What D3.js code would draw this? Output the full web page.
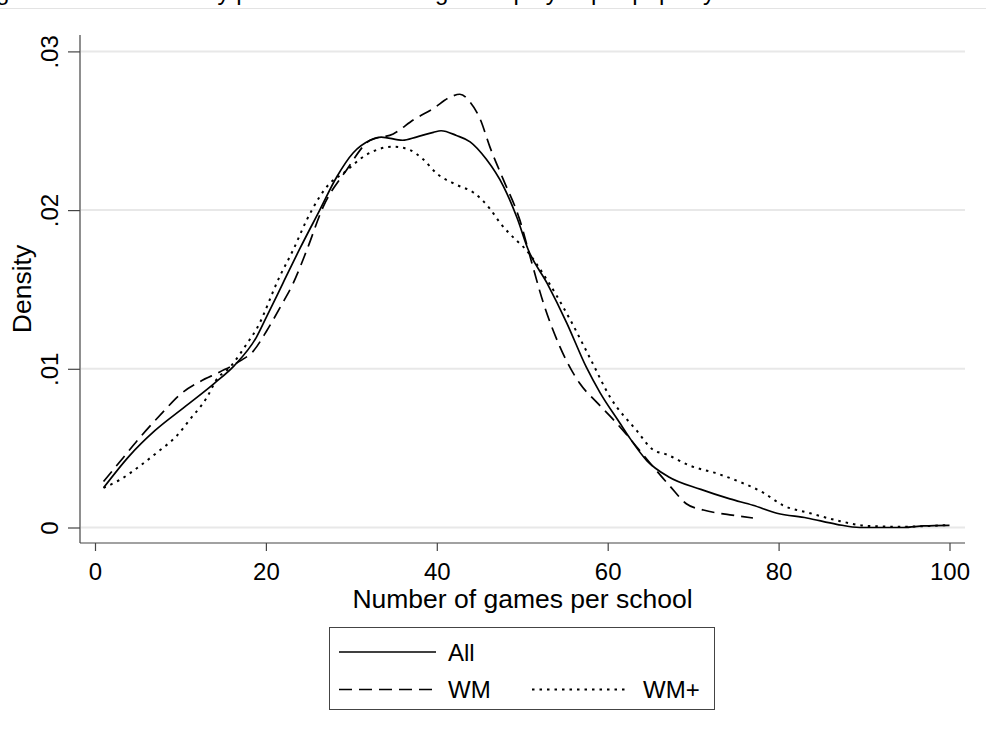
<!DOCTYPE html>
<html>
<head>
<meta charset="utf-8">
<script src="https://cdn.jsdelivr.net/npm/d3@7"></script>
<style>
  html, body { margin: 0; padding: 0; background: #fff; }
  svg { display: block; }
  text { font-family: "Liberation Sans", Arial, sans-serif; fill: #000; }
</style>
</head>
<body>
<svg id="chart" width="989" height="738"></svg>
<script>
// Kernel density estimates of games per school, three groups: [games, density]
const allSeries = [
  [1,0.0025],[4,0.0045],[7,0.0061],[10.5,0.0076],[14,0.0091],[16.3,0.0102],[18.9,0.0120],
  [20.1,0.0133],[22,0.0154],[24,0.0176],[26.3,0.0200],[28.3,0.0221],[30.2,0.0236],
  [32.2,0.0244],[33.5,0.0246],[36,0.0244],[37.6,0.0246],[39.6,0.0249],[40.5,0.0250],
  [42.3,0.0247],[43.9,0.0243],[45.8,0.0232],[47.8,0.0215],[49.4,0.0195],[50.7,0.0175],
  [52.9,0.0154],[55.2,0.0129],[57.5,0.0101],[59.1,0.0085],[61.4,0.0066],[62.5,0.0057],
  [64.6,0.0042],[67.1,0.0032],[70.9,0.0024],[74.3,0.0018],[77,0.0014],[79.8,0.0009],
  [83.3,0.0006],[86.8,0.0002],[89.5,0.0000],[94.6,0.0000],[97,0.0001],[100,0.00014]
];
const wmSeries = [
  [1,0.0029],[3.3,0.0044],[5.3,0.0057],[8,0.0073],[10,0.0084],[12.3,0.0092],[14.6,0.0098],
  [17,0.0105],[18.5,0.0111],[20.1,0.0124],[21.8,0.0140],[23.2,0.0154],[24.8,0.0175],
  [26.7,0.0202],[29.4,0.0225],[32.2,0.0244],[34.9,0.0248],[37.3,0.0257],[39.6,0.0264],
  [41.5,0.0271],[42.7,0.0273],[43.9,0.0268],[45.1,0.0257],[46.2,0.0240],[47.8,0.0219],
  [49.7,0.0194],[50.9,0.0171],[52.5,0.0141],[54.4,0.0114],[56.7,0.0091],[58.7,0.0079],
  [61,0.0066],[64.9,0.0041],[67.3,0.0026],[69.2,0.0015],[71.2,0.0011],[74.3,0.0008],
  [77,0.0006]
];
const wmPlusSeries = [
  [1,0.0025],[2.9,0.0030],[5.3,0.0039],[7.2,0.0047],[9.6,0.0058],[11.1,0.0068],
  [13.1,0.0082],[14.2,0.0093],[15.8,0.0101],[17.8,0.0116],[18.9,0.0125],[21.6,0.0158],
  [23.2,0.0175],[24.8,0.0194],[27.5,0.0217],[29,0.0223],[31.8,0.0235],[34.9,0.0240],
  [36.8,0.0238],[38.4,0.0232],[40,0.0223],[42.3,0.0216],[44.3,0.0211],[46.2,0.0201],
  [47.4,0.0192],[49.3,0.0181],[50.1,0.0177],[52.9,0.0156],[55.6,0.0131],[58,0.0106],
  [60.3,0.0082],[63.4,0.0061],[65.3,0.0049],[66.9,0.0046],[69.6,0.0039],[72.8,0.0034],
  [75.8,0.0028],[78.2,0.0022],[80.5,0.0014],[83.7,0.0009],[87.2,0.0004],[90.3,0.0001],
  [94.2,0.00005],[100,0.00016]
];

const seriesNames = ["All", "WM", "WM+"];
const xTickValues = [0, 20, 40, 60, 80, 100];
const xTickLabels = ["0", "20", "40", "60", "80", "100"];
const yTickValues = [0, 0.01, 0.02, 0.03];
const yTickLabels = ["0", ".01", ".02", ".03"];
const xTitle = "Number of games per school";
const yTitle = "Density";
const figureTitle = "Figure 3. Kernel density plots of number of games played per pupil by school";

const svg = d3.select("#chart");

// plot region
const plotLeft = 80, plotRight = 965, plotTop = 35, plotBottom = 543;
const x = d3.scaleLinear().domain([0, 100]).range([95, 949.5]);
const y = d3.scaleLinear().domain([0, 0.03]).range([527.5, 51.4]);

// title running off the top edge, with the rule under it
svg.append("text")
  .attr("x", -24).attr("y", 0)
  .attr("font-size", 24)
  .text(figureTitle);
svg.append("line")
  .attr("x1", 0).attr("x2", 986).attr("y1", 8.5).attr("y2", 8.5)
  .attr("stroke", "#e3e3e3").attr("stroke-width", 1);

// horizontal gridlines
svg.append("g").selectAll("line")
  .data(yTickValues)
  .join("line")
  .attr("x1", plotLeft + 1).attr("x2", plotRight)
  .attr("y1", d => y(d)).attr("y2", d => y(d))
  .attr("stroke", "#e8e8e8").attr("stroke-width", 2);

// axes
const xAxis = d3.axisBottom(x)
  .tickValues(xTickValues)
  .tickFormat((d, i) => xTickLabels[i])
  .tickSize(8).tickPadding(12);
const gx = svg.append("g").attr("transform", `translate(0,${plotBottom})`).call(xAxis);
gx.select(".domain").remove();
gx.selectAll(".tick line").attr("stroke", "#444").attr("stroke-width", 1.2);
gx.selectAll(".tick text")
  .attr("font-size", 24).attr("font-family", "Liberation Sans, Arial, sans-serif")
  .attr("fill", "#000");

const yAxis = d3.axisLeft(y)
  .tickValues(yTickValues)
  .tickFormat((d, i) => yTickLabels[i])
  .tickSize(12).tickPadding(0);
const gy = svg.append("g").attr("transform", `translate(${plotLeft},0)`).call(yAxis);
gy.select(".domain").remove();
gy.selectAll(".tick line").attr("stroke", "#444").attr("stroke-width", 1.2);
gy.selectAll(".tick text")
  .attr("font-size", 24).attr("font-family", "Liberation Sans, Arial, sans-serif")
  .attr("fill", "#000")
  .attr("x", null).attr("dy", null)
  .attr("text-anchor", "middle")
  .attr("transform", "translate(-22,0) rotate(-90)");

svg.append("line")
  .attr("x1", plotLeft).attr("x2", plotLeft).attr("y1", plotTop).attr("y2", plotBottom)
  .attr("stroke", "#444").attr("stroke-width", 1.2);
svg.append("line")
  .attr("x1", plotLeft).attr("x2", plotRight).attr("y1", plotBottom).attr("y2", plotBottom)
  .attr("stroke", "#444").attr("stroke-width", 1.2);

// axis titles
svg.append("text")
  .attr("x", (plotLeft + plotRight) / 2).attr("y", 608)
  .attr("text-anchor", "middle").attr("font-size", 26.5)
  .text(xTitle);
svg.append("text")
  .attr("transform", `translate(31,${(plotTop + plotBottom) / 2}) rotate(-90)`)
  .attr("text-anchor", "middle").attr("font-size", 26.5)
  .text(yTitle);

// density curves
const styles = [
  { data: allSeries, dash: null, width: 1.7 },
  { data: wmSeries, dash: "13,7", width: 1.7 },
  { data: wmPlusSeries, dash: "2.5,5", width: 2 }
];
const line = d3.line().x(d => x(d[0])).y(d => y(d[1])).curve(d3.curveMonotoneX);
svg.append("g").selectAll("path")
  .data(styles)
  .join("path")
  .attr("d", s => line(s.data))
  .attr("fill", "none")
  .attr("stroke", "#000")
  .attr("stroke-width", s => s.width)
  .attr("stroke-dasharray", s => s.dash);

// legend
const legend = svg.append("g");
legend.append("rect")
  .attr("x", 329.5).attr("y", 627.5).attr("width", 385).attr("height", 82)
  .attr("fill", "#fff").attr("stroke", "#444").attr("stroke-width", 1);
const legendItems = [
  { name: seriesNames[0], style: styles[0], x0: 339, x1: 436, tx: 448, ly: 652 },
  { name: seriesNames[1], style: styles[1], x0: 339, x1: 436, tx: 448, ly: 689.5 },
  { name: seriesNames[2], style: styles[2], x0: 532, x1: 626, tx: 643, ly: 689.5 }
];
legend.selectAll("line")
  .data(legendItems)
  .join("line")
  .attr("x1", d => d.x0).attr("x2", d => d.x1)
  .attr("y1", d => d.ly).attr("y2", d => d.ly)
  .attr("stroke", "#000")
  .attr("stroke-width", d => d.style.width)
  .attr("stroke-dasharray", d => d.style.dash);
legend.selectAll("text")
  .data(legendItems)
  .join("text")
  .attr("x", d => d.tx).attr("y", d => d.ly + 8.5)
  .attr("font-size", 24)
  .text(d => d.name);
</script>
</body>
</html>
